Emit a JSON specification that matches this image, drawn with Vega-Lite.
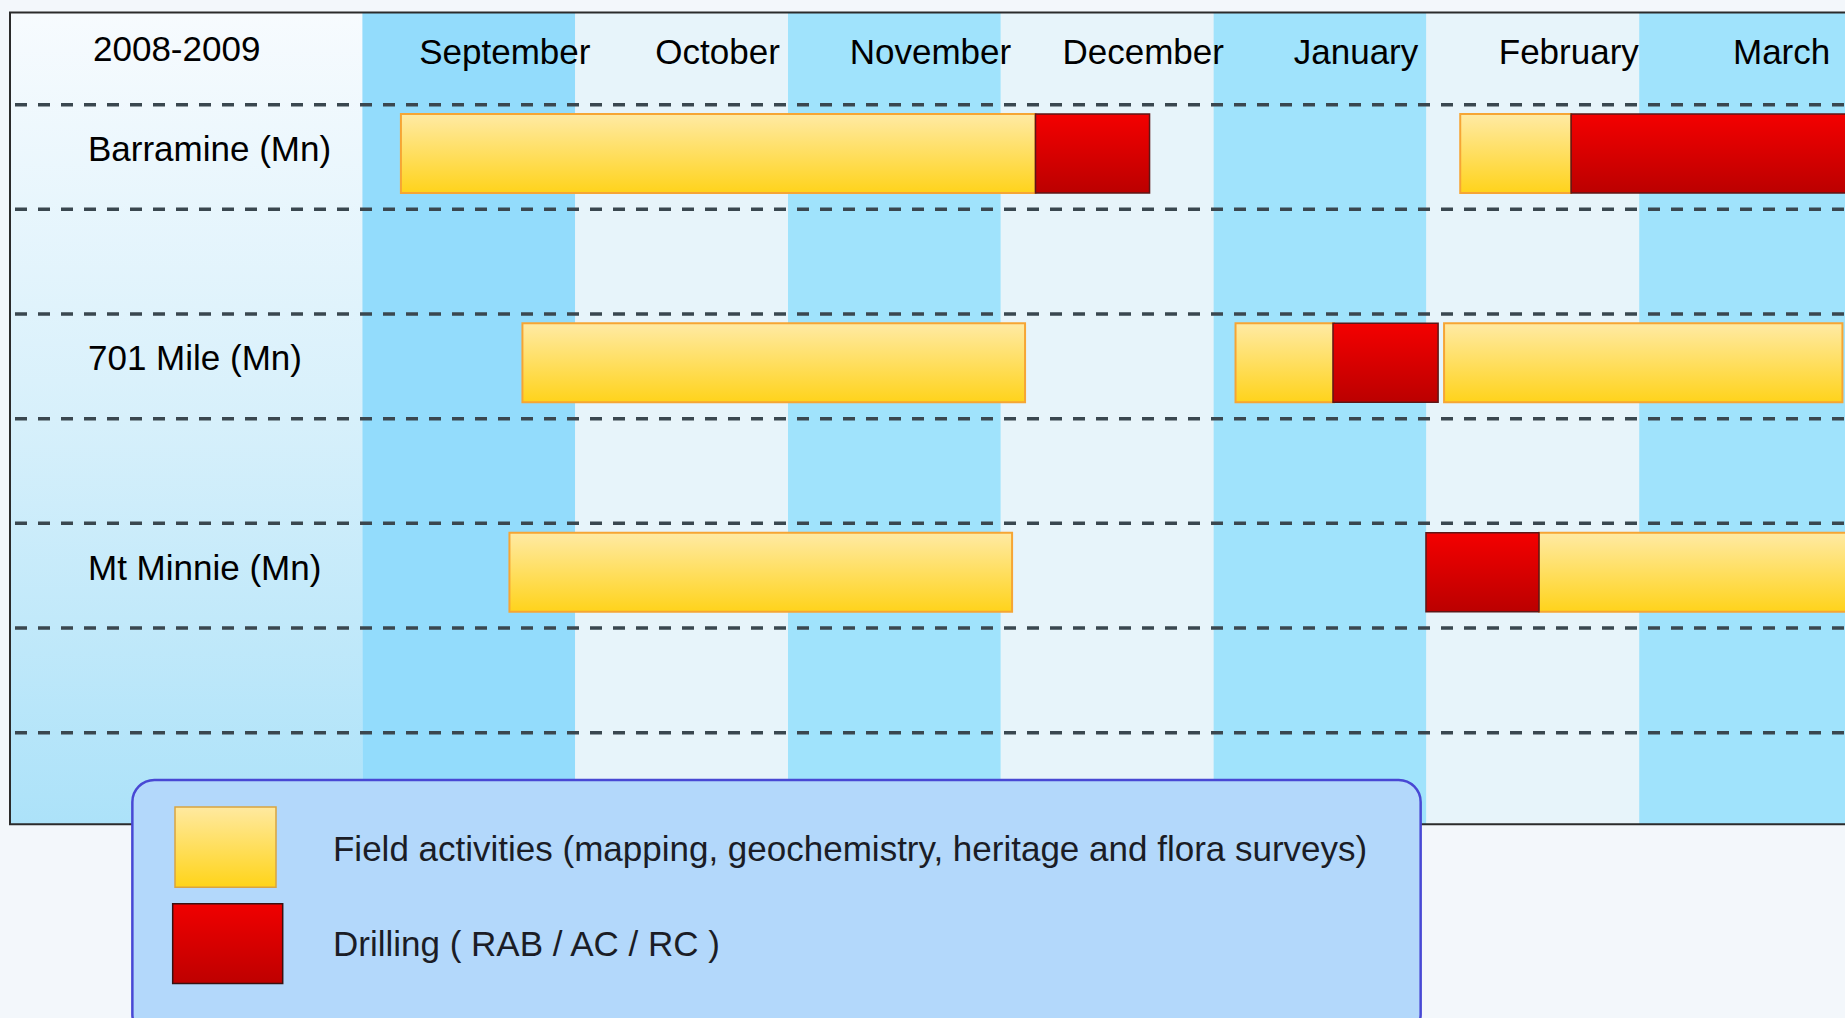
{
  "$schema": "https://vega.github.io/schema/vega-lite/v6.json",
  "width": 1845,
  "height": 1018,
  "padding": 0,
  "autosize": {"type": "none"},
  "background": "#f3f7fb",
  "config": {"view": {"stroke": null}, "axis": {"disable": true}},
  "datasets": {
    "months": [
      {"month": "September", "start": 0, "end": 1},
      {"month": "October", "start": 1, "end": 2},
      {"month": "November", "start": 2, "end": 3},
      {"month": "December", "start": 3, "end": 4},
      {"month": "January", "start": 4, "end": 5},
      {"month": "February", "start": 5, "end": 6},
      {"month": "March", "start": 6, "end": 7}
    ],
    "boundaries": [
      {"boundary": 0.5}, {"boundary": 1.5}, {"boundary": 2.5}, {"boundary": 3.5},
      {"boundary": 4.5}, {"boundary": 5.5}, {"boundary": 6.5}
    ],
    "sites": [
      {"site": "Barramine (Mn)", "row": 1},
      {"site": "701 Mile (Mn)", "row": 3},
      {"site": "Mt Minnie (Mn)", "row": 5}
    ],
    "activities": [
      {"site": "Barramine (Mn)", "row": 1, "type": "Field activities", "start": 0.181, "end": 3.163},
      {"site": "Barramine (Mn)", "row": 1, "type": "Drilling", "start": 3.163, "end": 3.699},
      {"site": "Barramine (Mn)", "row": 1, "type": "Field activities", "start": 5.159, "end": 5.68},
      {"site": "Barramine (Mn)", "row": 1, "type": "Drilling", "start": 5.68, "end": 7.1},
      {"site": "701 Mile (Mn)", "row": 3, "type": "Field activities", "start": 0.752, "end": 3.114},
      {"site": "701 Mile (Mn)", "row": 3, "type": "Field activities", "start": 4.103, "end": 4.566},
      {"site": "701 Mile (Mn)", "row": 3, "type": "Drilling", "start": 4.561, "end": 5.055},
      {"site": "701 Mile (Mn)", "row": 3, "type": "Field activities", "start": 5.083, "end": 6.955},
      {"site": "Mt Minnie (Mn)", "row": 5, "type": "Field activities", "start": 0.691, "end": 3.053},
      {"site": "Mt Minnie (Mn)", "row": 5, "type": "Drilling", "start": 4.998, "end": 5.529},
      {"site": "Mt Minnie (Mn)", "row": 5, "type": "Field activities", "start": 5.529, "end": 7.1}
    ],
    "legend": [
      {"type": "Field activities", "label": "Field activities (mapping, geochemistry, heritage and flora surveys)"},
      {"type": "Drilling", "label": "Drilling ( RAB / AC / RC )"}
    ],
    "title": [{"label": "2008-2009"}]
  },
  "layer": [
    {
      "data": {"name": "title"},
      "mark": {"type": "rect", "clip": true, "fill": {"gradient": "linear", "x1": 0, "y1": 0, "x2": 0, "y2": 1, "stops": [{"offset": 0, "color": "#f7fbfe"}, {"offset": 0.5, "color": "#d7f0fb"}, {"offset": 1, "color": "#ace2f9"}]}},
      "encoding": {
        "x": {"datum": -1.656, "scale": {"domain": [-1.703, 6.9671], "nice": false, "zero": false}, "axis": null},
        "x2": {"datum": 0},
        "y": {"datum": -0.3817, "scale": {"domain": [-0.4527, 9.1784], "reverse": true, "nice": false, "zero": false}, "axis": null},
        "y2": {"datum": 7.376}
      }
    },
    {
      "data": {"name": "months"},
      "mark": {"type": "rect", "clip": true},
      "encoding": {
        "x": {"field": "start", "type": "quantitative", "scale": {"domain": [-1.703, 6.9671], "nice": false, "zero": false}, "axis": null},
        "x2": {"field": "end"},
        "y": {"datum": -0.3817, "scale": {"domain": [-0.4527, 9.1784], "reverse": true, "nice": false, "zero": false}, "axis": null},
        "y2": {"datum": 7.376},
        "fill": {
          "condition": [
            {"test": "datum.start === 0", "value": "#93dcfc"},
            {"test": "datum.start % 2 === 0", "value": "#a0e3fc"}
          ],
          "value": "#e7f4fa"
        }
      }
    },
    {
      "data": {"name": "boundaries"},
      "mark": {"type": "rule", "clip": true, "color": "#3a474f", "strokeWidth": 3.5, "strokeDash": [12, 11], "strokeDashOffset": -5},
      "encoding": {
        "x": {"datum": -1.656, "scale": {"domain": [-1.703, 6.9671], "nice": false, "zero": false}, "axis": null},
        "x2": {"datum": 7.2},
        "y": {"field": "boundary", "type": "quantitative", "scale": {"domain": [-0.4527, 9.1784], "reverse": true, "nice": false, "zero": false}, "axis": null}
      }
    },
    {
      "data": {"name": "title"},
      "mark": {"type": "rect", "clip": true, "fill": null, "fillOpacity": 0, "stroke": "#2b2b2b", "strokeWidth": 2},
      "encoding": {
        "x": {"datum": -1.656, "scale": {"domain": [-1.703, 6.9671], "nice": false, "zero": false}, "axis": null},
        "x2": {"datum": 7.3},
        "y": {"datum": -0.3817, "scale": {"domain": [-0.4527, 9.1784], "reverse": true, "nice": false, "zero": false}, "axis": null},
        "y2": {"datum": 7.376}
      }
    },
    {
      "data": {"name": "months"},
      "mark": {"type": "text", "clip": true, "align": "center", "baseline": "alphabetic", "dx": 142.4, "font": "Liberation Sans Narrow, Liberation Sans, Arial, sans-serif", "fontSize": 35, "color": "#000000"},
      "encoding": {
        "x": {"field": "start", "type": "quantitative", "scale": {"domain": [-1.703, 6.9671], "nice": false, "zero": false}, "axis": null},
        "y": {"datum": 0.1127, "scale": {"domain": [-0.4527, 9.1784], "reverse": true, "nice": false, "zero": false}, "axis": null},
        "text": {"field": "month"}
      }
    },
    {
      "data": {"name": "title"},
      "mark": {"type": "text", "clip": true, "align": "center", "baseline": "alphabetic", "font": "Liberation Sans Narrow, Liberation Sans, Arial, sans-serif", "fontSize": 35, "color": "#000000"},
      "encoding": {
        "x": {"datum": -0.8727, "scale": {"domain": [-1.703, 6.9671], "nice": false, "zero": false}, "axis": null},
        "y": {"datum": 0.0785, "scale": {"domain": [-0.4527, 9.1784], "reverse": true, "nice": false, "zero": false}, "axis": null},
        "text": {"field": "label"}
      }
    },
    {
      "data": {"name": "sites"},
      "mark": {"type": "text", "clip": true, "align": "left", "baseline": "middle", "dy": -7, "font": "Liberation Sans Narrow, Liberation Sans, Arial, sans-serif", "fontSize": 35, "color": "#000000"},
      "encoding": {
        "x": {"datum": -1.2895, "scale": {"domain": [-1.703, 6.9671], "nice": false, "zero": false}, "axis": null},
        "y": {"field": "row", "type": "quantitative", "scale": {"domain": [-0.4527, 9.1784], "reverse": true, "nice": false, "zero": false}, "axis": null},
        "text": {"field": "site"}
      }
    },
    {
      "data": {"name": "activities"},
      "transform": [{"filter": "datum.type === 'Field activities'"}],
      "mark": {"type": "bar", "clip": true, "height": 79, "yOffset": -3.5, "stroke": "#f6a534", "strokeWidth": 2, "fill": {"gradient": "linear", "x1": 0, "y1": 0, "x2": 0, "y2": 1, "stops": [{"offset": 0, "color": "#ffeaa4"}, {"offset": 1, "color": "#ffd31b"}]}},
      "encoding": {
        "x": {"field": "start", "type": "quantitative", "scale": {"domain": [-1.703, 6.9671], "nice": false, "zero": false}, "axis": null},
        "x2": {"field": "end"},
        "y": {"field": "row", "type": "quantitative", "scale": {"domain": [-0.4527, 9.1784], "reverse": true, "nice": false, "zero": false}, "axis": null}
      }
    },
    {
      "data": {"name": "activities"},
      "transform": [{"filter": "datum.type === 'Drilling'"}],
      "mark": {"type": "bar", "clip": true, "height": 79, "yOffset": -3.5, "stroke": "#5e1616", "strokeWidth": 1.5, "fill": {"gradient": "linear", "x1": 0, "y1": 0, "x2": 0, "y2": 1, "stops": [{"offset": 0, "color": "#f40000"}, {"offset": 1, "color": "#bb0000"}]}},
      "encoding": {
        "x": {"field": "start", "type": "quantitative", "scale": {"domain": [-1.703, 6.9671], "nice": false, "zero": false}, "axis": null},
        "x2": {"field": "end"},
        "y": {"field": "row", "type": "quantitative", "scale": {"domain": [-0.4527, 9.1784], "reverse": true, "nice": false, "zero": false}, "axis": null}
      }
    },
    {
      "data": {"name": "title"},
      "mark": {"type": "rect", "clip": true, "cornerRadius": 22, "fill": "#b3d8fb", "stroke": "#4848d4", "strokeWidth": 2.5},
      "encoding": {
        "x": {"datum": -1.081, "scale": {"domain": [-1.703, 6.9671], "nice": false, "zero": false}, "axis": null},
        "x2": {"datum": 4.973},
        "y": {"datum": 6.952, "scale": {"domain": [-0.4527, 9.1784], "reverse": true, "nice": false, "zero": false}, "axis": null},
        "y2": {"datum": 9.4}
      }
    },
    {
      "data": {"name": "legend"},
      "transform": [{"filter": "datum.type === 'Field activities'"}],
      "mark": {"type": "rect", "clip": true, "stroke": "#d9a440", "strokeWidth": 1.5, "fill": {"gradient": "linear", "x1": 0, "y1": 0, "x2": 0, "y2": 1, "stops": [{"offset": 0, "color": "#ffe9a0"}, {"offset": 1, "color": "#ffd419"}]}},
      "encoding": {
        "x": {"datum": -0.8806, "scale": {"domain": [-1.703, 6.9671], "nice": false, "zero": false}, "axis": null},
        "x2": {"datum": -0.406},
        "y": {"datum": 7.21, "scale": {"domain": [-0.4527, 9.1784], "reverse": true, "nice": false, "zero": false}, "axis": null},
        "y2": {"datum": 7.977}
      }
    },
    {
      "data": {"name": "legend"},
      "transform": [{"filter": "datum.type === 'Drilling'"}],
      "mark": {"type": "rect", "clip": true, "stroke": "#3a1010", "strokeWidth": 1.5, "fill": {"gradient": "linear", "x1": 0, "y1": 0, "x2": 0, "y2": 1, "stops": [{"offset": 0, "color": "#f00000"}, {"offset": 1, "color": "#be0000"}]}},
      "encoding": {
        "x": {"datum": -0.8915, "scale": {"domain": [-1.703, 6.9671], "nice": false, "zero": false}, "axis": null},
        "x2": {"datum": -0.3745},
        "y": {"datum": 8.135, "scale": {"domain": [-0.4527, 9.1784], "reverse": true, "nice": false, "zero": false}, "axis": null},
        "y2": {"datum": 8.897}
      }
    },
    {
      "data": {"name": "legend"},
      "transform": [{"filter": "datum.type === 'Field activities'"}],
      "mark": {"type": "text", "clip": true, "align": "left", "baseline": "middle", "font": "Liberation Sans, Arial, sans-serif", "fontSize": 35, "color": "#1b1d26"},
      "encoding": {
        "x": {"datum": -0.1382, "scale": {"domain": [-1.703, 6.9671], "nice": false, "zero": false}, "axis": null},
        "y": {"datum": 7.617, "scale": {"domain": [-0.4527, 9.1784], "reverse": true, "nice": false, "zero": false}, "axis": null},
        "text": {"field": "label"}
      }
    },
    {
      "data": {"name": "legend"},
      "transform": [{"filter": "datum.type === 'Drilling'"}],
      "mark": {"type": "text", "clip": true, "align": "left", "baseline": "middle", "font": "Liberation Sans, Arial, sans-serif", "fontSize": 35, "color": "#1b1d26"},
      "encoding": {
        "x": {"datum": -0.1382, "scale": {"domain": [-1.703, 6.9671], "nice": false, "zero": false}, "axis": null},
        "y": {"datum": 8.526, "scale": {"domain": [-0.4527, 9.1784], "reverse": true, "nice": false, "zero": false}, "axis": null},
        "text": {"field": "label"}
      }
    }
  ]
}
